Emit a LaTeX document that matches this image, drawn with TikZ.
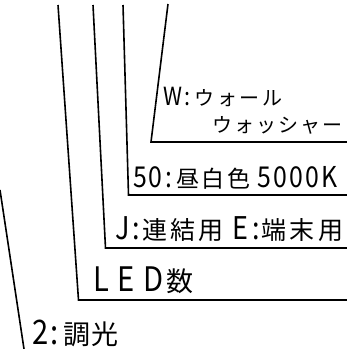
\documentclass[tikz,border=0pt]{standalone}
\usepackage{fontspec}
\setmainfont{Noto Sans CJK JP}
\newfontfamily\jp{Noto Sans CJK JP}
\tikzset{
  leader/.style={line width=1.6pt, line join=miter},
  lbl/.style={anchor=base west, inner sep=0pt, outer sep=0pt, font=\jp},
}
\newcommand\sz[3]{\fontsize{#1}{#1}\selectfont\addfontfeature{LetterSpace=#2}#3}
\newcommand\lat[1]{\scalebox{1.08}[1.25]{#1}}
\begin{document}
\begin{tikzpicture}[x=1pt,y=-1pt]
\useasboundingbox (0,0) rectangle (347,349);
% leader line coordinates
\coordinate (a1) at (0,190);   \coordinate (a2) at (24,349);
\coordinate (b1) at (58,5);    \coordinate (b2) at (78.5,300);  \coordinate (b3) at (349,300);
\coordinate (c1) at (93,5);    \coordinate (c2) at (105.5,248); \coordinate (c3) at (349,248);
\coordinate (d1) at (123,5);   \coordinate (d2) at (128.5,195); \coordinate (d3) at (349,195);
\coordinate (e1) at (168,4);   \coordinate (e2) at (151,142);   \coordinate (e3) at (349,142);
\draw[leader] (a1) -- (a2);
\draw[leader] (b1) -- (b2) -- (b3);
\draw[leader] (c1) -- (c2) -- (c3);
\draw[leader] (d1) -- (d2) -- (d3);
\draw[leader] (e1) -- (e2) -- (e3);
% labels
\node[lbl] (tw1) at (163,105) {\sz{20}{13}{\lat{W:}\kern4pt ウォール}};
\node[lbl] (tw2) at (212,132) {\sz{20}{11}{ウォッシャー}};
\node[lbl] (t50) at (133,187) {\sz{23}{9}{\lat{50:}\kern5pt 昼白色 \lat{5000K}}};
\node[lbl] (tj)  at (115,239) {\sz{25}{13}{\lat{J:}\kern2pt 連結用 \lat{E:}\kern2pt 端末用}};
\node[lbl] (tl)  at (93,291)  {\sz{27}{30}{\lat{LED}\kern3pt 数}};
\node[lbl] (t2)  at (33,344)  {\sz{27}{4}{\lat{2:}\kern5pt 調光}};
\end{tikzpicture}
\end{document}
